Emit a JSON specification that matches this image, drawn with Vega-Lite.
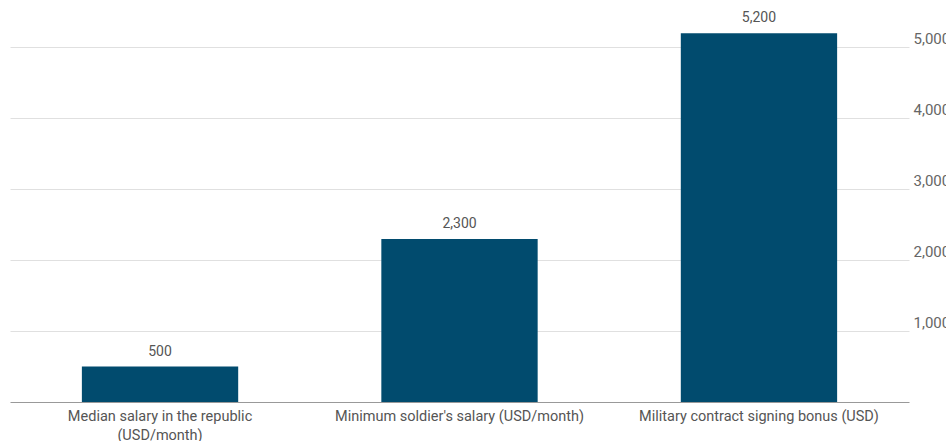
{
  "$schema": "https://vega.github.io/schema/vega-lite/v6.json",
  "autosize": "none",
  "padding": {"left": 10, "top": 12, "right": 37, "bottom": 39},
  "width": 899,
  "height": 390,
  "background": "white",
  "data": {"values": [
    {"category": "Median salary in the republic (USD/month)", "value": 500, "label": "500"},
    {"category": "Minimum soldier's salary (USD/month)", "value": 2300, "label": "2,300"},
    {"category": "Military contract signing bonus (USD)", "value": 5200, "label": "5,200"}
  ]},
  "config": {
    "font": "Roboto",
    "view": {"stroke": null}
  },
  "encoding": {
    "x": {
      "field": "category", "type": "nominal", "sort": null,
      "scale": {"paddingInner": 0.478, "paddingOuter": 0.24},
      "axis": {
        "title": null, "labelAngle": 0, "ticks": false,
        "domainColor": "#999999", "domainWidth": 1,
        "labelColor": "#555555", "labelFontSize": 14.5, "labelPadding": 7,
        "labelLineHeight": 19,
        "labelLimit": 400,
        "labelExpr": "datum.value == 'Median salary in the republic (USD/month)' ? ['Median salary in the republic', '(USD/month)'] : datum.value"
      }
    },
    "y": {
      "field": "value", "type": "quantitative",
      "scale": {"domain": [0, 5500]},
      "axis": {
        "orient": "right", "title": null, "values": [1000, 2000, 3000, 4000, 5000],
        "format": ",.0f", "ticks": false, "domain": false,
        "gridColor": "#e0e0e0", "labelColor": "#666666", "labelFontSize": 15,
        "labelBaseline": "bottom", "labelPadding": 4, "labelOffset": -1
      }
    }
  },
  "layer": [
    {"mark": {"type": "bar", "color": "#014b6e"}},
    {"mark": {"type": "text", "dy": -15, "color": "#555555", "fontSize": 14}, "encoding": {"text": {"field": "label"}}}
  ]
}
